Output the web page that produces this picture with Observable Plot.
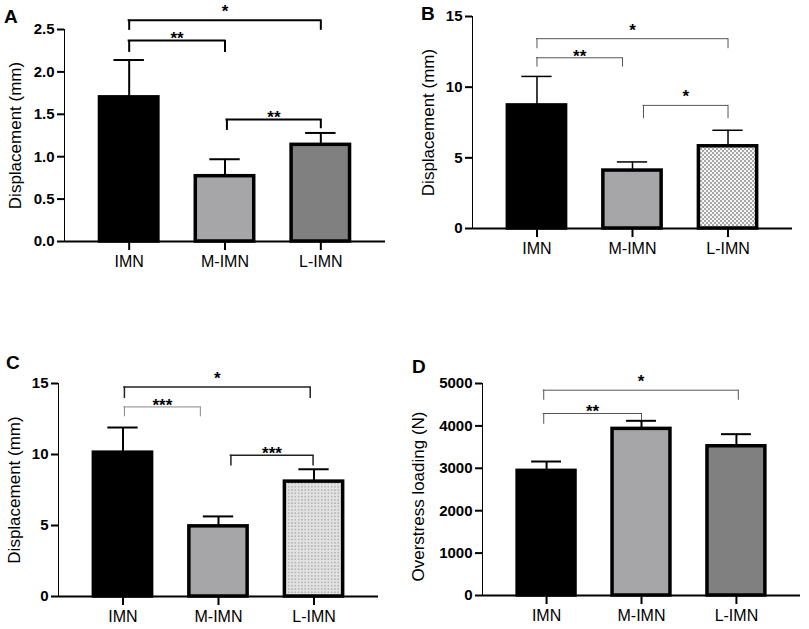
<!DOCTYPE html>
<html><head><meta charset="utf-8">
<script src="https://cdn.jsdelivr.net/npm/d3@7"></script>
<script src="https://cdn.jsdelivr.net/npm/@observablehq/plot@0.6"></script>
<style>
html,body{margin:0;padding:0;background:#fff;}
#fig{position:relative;width:809px;height:629px;font-family:"Liberation Sans",Arial,sans-serif;color:#000;overflow:hidden;background:#fff;}
.panel{position:absolute;}
.plabel{position:absolute;font-weight:bold;font-size:19px;line-height:1;font-family:"Liberation Sans",Arial,sans-serif;}
.panel svg{overflow:visible;}
.panel svg g[aria-label^="y-axis"] text{font-weight:bold;font-size:15px;fill:#000;}
.panel svg g[aria-label^="x-axis"] text{font-size:16px;fill:#000;}
.panel svg g[aria-label^="x-axis"] line,.panel svg g[aria-label^="x-axis"] path,
.panel svg g[aria-label^="y-axis"] line,.panel svg g[aria-label^="y-axis"] path{stroke:#000;stroke-width:2px;}
</style></head>
<body><div id="fig"></div>
<script>
// ---------- data ----------
const groups = ["IMN", "M-IMN", "L-IMN"];

const meanA = [1.70, 0.77, 1.14];
const sdA   = [0.44, 0.20, 0.14];
const ticksA = [0, 0.5, 1.0, 1.5, 2.0, 2.5];
const bracketsA = [
  {from: "IMN",   to: "L-IMN", y: 2.61, tipL: 2.49, tipR: 2.49, label: "*"},
  {from: "IMN",   to: "M-IMN", y: 2.37, tipL: 2.23, tipR: 2.23, label: "**"},
  {from: "M-IMN", to: "L-IMN", y: 1.44, tipL: 1.31, tipR: 1.33, label: "**"}
];

const meanB = [8.71, 4.10, 5.82];
const sdB   = [2.05, 0.61, 1.13];
const ticksB = [0, 5, 10, 15];
const bracketsB = [
  {from: "IMN",   to: "L-IMN", y: 13.43, tipL: 12.72, tipR: 12.72, label: "*"},
  {from: "IMN",   to: "M-IMN", y: 12.08, tipL: 11.42, tipR: 11.42, label: "**"},
  {from: "M-IMN", to: "L-IMN", y: 8.71,  tipL: 7.77,  tipR: 7.77,  label: "*"}
];

const meanC = [10.13, 4.94, 8.09];
const sdC   = [1.77, 0.70, 0.87];
const ticksC = [0, 5, 10, 15];
const bracketsC = [
  {from: "IMN",   to: "L-IMN", y: 14.76, tipL: 13.94, tipR: 13.94, label: "*"},
  {from: "IMN",   to: "M-IMN", y: 13.35, tipL: 12.65, tipR: 12.65, label: "***"},
  {from: "M-IMN", to: "L-IMN", y: 9.94,  tipL: 9.19,  tipR: 9.19,  label: "***"}
];

const meanD = [2940, 3930, 3520];
const sdD   = [220, 190, 285];
const ticksD = [0, 1000, 2000, 3000, 4000, 5000];
const bracketsD = [
  {from: "IMN", to: "L-IMN", y: 4842, tipL: 4606, tipR: 4606, label: "*"},
  {from: "IMN", to: "M-IMN", y: 4292, tipL: 4041, tipR: 4130, label: "**"}
];

// ---------- panel layout / styles ----------
const strong = {stroke: "#000", width: 2};
const thin = {stroke: "#555", width: 1};
const thinLight = {stroke: "#888", width: 1};

// bracket end shifts are layout tweaks, in fractions of a band step: [left end, right end]
const panels = [
  {id: "A", left: 0, top: 0, w: 400, h: 300, ml: 64, mr: 15, mt: 29, mb: 59,
   mean: meanA, sd: sdA, ticks: ticksA, domain: [0, 2.5], fmt: d3.format(".1f"),
   brackets: bracketsA, bstyle: [strong, strong, strong], bshift: [[0, 0], [0, 0], [0.02, 0]],
   colors: ["#000000", "#a6a6a9", "#808080"], errW: 2,
   ylabel: "Displacement (mm)", ydx: -49, ydy: 0,
   labelPos: [4, 7]},
  {id: "B", left: 400, top: 0, w: 409, h: 300, ml: 72, mr: 17, mt: 16, mb: 72,
   mean: meanB, sd: sdB, ticks: ticksB, domain: [0, 15], fmt: d3.format("d"),
   brackets: bracketsB, bstyle: [thin, thin, thin], bshift: [[0, 0], [0, -0.105], [0.115, 0]],
   colors: ["#000000", "#a6a6a9", "url(#checker)"], errW: 1.5,
   ylabel: "Displacement (mm)", ydx: -44, ydy: 0,
   labelPos: [421, 4]},
  {id: "C", left: 0, top: 320, w: 400, h: 309, ml: 58, mr: 22, mt: 63, mb: 33,
   mean: meanC, sd: sdC, ticks: ticksC, domain: [0, 15], fmt: d3.format("d"),
   brackets: bracketsC, bstyle: [{stroke: "#222", width: 1.5}, thinLight, {stroke: "#222", width: 1.5}],
   bshift: [[0.015, -0.04], [0.015, -0.19], [0.13, -0.01]],
   colors: ["#000000", "#a6a6a9", "url(#dots)"], errW: 2,
   ylabel: "Displacement (mm)", ydx: -44, ydy: 0,
   labelPos: [6, 353]},
  {id: "D", left: 400, top: 320, w: 409, h: 309, ml: 82, mr: 9, mt: 63, mb: 34,
   mean: meanD, sd: sdD, ticks: ticksD, domain: [0, 5000], fmt: d3.format("d"),
   brackets: bracketsD, bstyle: [thin, thin], bshift: [[-0.03, 0.02], [-0.03, 0]],
   colors: ["#000000", "#a6a6a9", "#808080"], errW: 2,
   ylabel: "Overstress loading (N)", ydx: -64, ydy: 7,
   labelPos: [412, 357]}
];

function build(cfg, step, bw) {
  const rows = groups.map((g, i) => ({group: g, mean: cfg.mean[i], top: cfg.mean[i] + cfg.sd[i]}));
  const idx = g => groups.indexOf(g);
  const marks = [
    Plot.text([cfg.ylabel], {frameAnchor: "left", text: d => d, rotate: -90, textAnchor: "middle",
      dx: cfg.ydx, dy: cfg.ydy, fontSize: 17, fill: "#000"}),
    Plot.barY(rows, {x: "group", y: "mean", fill: "group", stroke: "#000", strokeWidth: 3.5}),
    Plot.ruleX(rows, {x: "group", y1: "mean", y2: "top", stroke: "#000", strokeWidth: cfg.errW}),
    Plot.tickY(rows, {x: "group", y: "top", stroke: "#000", strokeWidth: cfg.errW, inset: 14}),
    Plot.ruleY([0], {stroke: "#000", strokeWidth: 2})
  ];
  cfg.brackets.forEach((b, k) => {
    const st = cfg.bstyle[k];
    const [sl, sr] = cfg.bshift[k];
    const offL = sl * step, offR = sr * step;
    marks.push(Plot.ruleX([b], {x: "from", y1: "tipL", y2: "y", dx: offL, stroke: st.stroke, strokeWidth: st.width}));
    marks.push(Plot.ruleX([b], {x: "to", y1: "tipR", y2: "y", dx: offR, stroke: st.stroke, strokeWidth: st.width}));
    marks.push(Plot.ruleY([b], {x1: "from", x2: "to", y: "y", stroke: st.stroke, strokeWidth: st.width,
      strokeLinecap: "square", insetLeft: bw / 2 + offL, insetRight: bw / 2 - offR}));
    const mid = (idx(b.to) - idx(b.from)) / 2 * step + (offL + offR) / 2;
    marks.push(Plot.text([b], {x: "from", y: "y", text: "label",
      dx: mid, dy: b.label.length === 1 ? -8.5 : -1.5, lineAnchor: "middle",
      fontWeight: "bold", fontSize: 17, fill: "#000"}));
  });
  return Plot.plot({
    width: cfg.w, height: cfg.h,
    marginLeft: cfg.ml, marginRight: cfg.mr, marginTop: cfg.mt, marginBottom: cfg.mb,
    x: {domain: groups, paddingInner: 0.39, paddingOuter: 0.37, round: false, label: null, tickSize: 9, tickPadding: 5},
    y: {domain: cfg.domain, ticks: cfg.ticks, tickFormat: cfg.fmt, label: null, tickSize: 7, tickPadding: 3, line: true},
    color: {domain: groups, range: cfg.colors},
    style: {fontFamily: '"Liberation Sans", Arial, sans-serif', fontSize: "16px", color: "#000", background: "transparent", overflow: "visible"},
    marks
  });
}

function getBand(chart) {
  const s = chart.scale("x");
  let step = s.step, bw = s.bandwidth;
  if (!step) {
    const [r0, r1] = s.range;
    step = (r1 - r0) / (groups.length - s.paddingInner + 2 * s.paddingOuter);
  }
  if (!bw) bw = step * (1 - s.paddingInner);
  return [step, bw];
}

function addDefs(svg) {
  const defs = d3.create("svg:defs");
  const ch = defs.append("pattern").attr("id", "checker").attr("patternUnits", "userSpaceOnUse")
    .attr("width", 4).attr("height", 4);
  ch.append("rect").attr("width", 4).attr("height", 4).attr("fill", "#f6f6f6");
  ch.append("rect").attr("width", 2).attr("height", 2).attr("fill", "#a8a8a8");
  ch.append("rect").attr("x", 2).attr("y", 2).attr("width", 2).attr("height", 2).attr("fill", "#a8a8a8");
  const dt = defs.append("pattern").attr("id", "dots").attr("patternUnits", "userSpaceOnUse")
    .attr("width", 3.3).attr("height", 3.3);
  dt.append("rect").attr("width", 3.3).attr("height", 3.3).attr("fill", "#e2e2e2");
  dt.append("circle").attr("cx", 1.65).attr("cy", 1.65).attr("r", 0.7).attr("fill", "#8c8c8c");
  svg.insertBefore(defs.node(), svg.firstChild);
}

const fig = document.getElementById("fig");
for (const cfg of panels) {
  const first = build(cfg, 0, 0);
  const [step, bw] = getBand(first);
  const chart = build(cfg, step, bw);
  const div = document.createElement("div");
  div.className = "panel";
  div.style.left = cfg.left + "px";
  div.style.top = cfg.top + "px";
  div.appendChild(chart);
  fig.appendChild(div);
  const svg = chart.tagName.toLowerCase() === "svg" ? chart : chart.querySelector("svg");
  addDefs(svg);
  const lab = document.createElement("div");
  lab.className = "plabel";
  lab.style.left = cfg.labelPos[0] + "px";
  lab.style.top = cfg.labelPos[1] + "px";
  lab.textContent = cfg.id;
  fig.appendChild(lab);
}
</script>
</body></html>
